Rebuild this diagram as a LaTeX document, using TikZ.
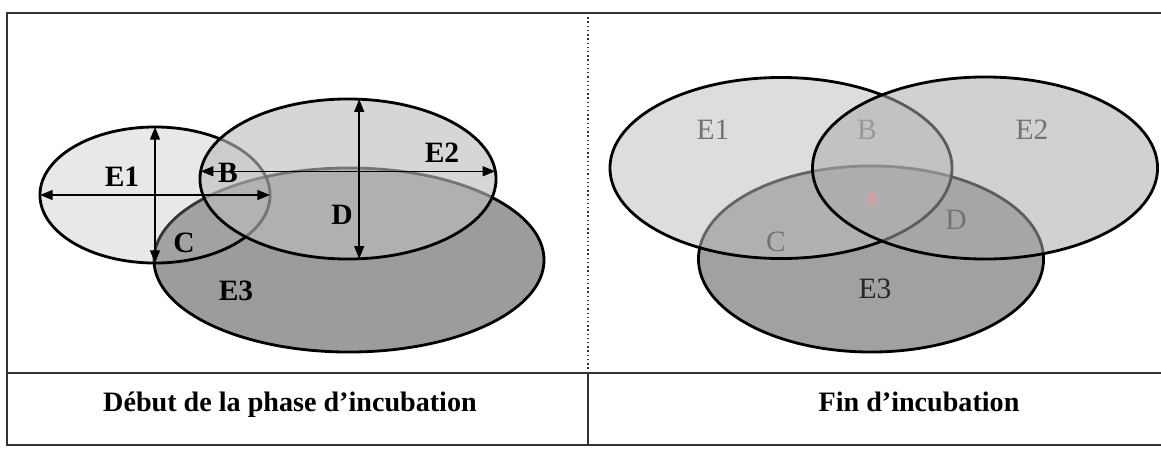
\documentclass[tikz,border=0pt]{standalone}
\usepackage{fontspec}
\setmainfont{Liberation Serif}
\usetikzlibrary{shapes.geometric, arrows.meta}

\definecolor{gUnD}{gray}{0.70}
\definecolor{gDeuxD}{gray}{0.74}
\definecolor{gTroisD}{gray}{0.61}
\definecolor{gUnF}{gray}{0.75}
\definecolor{gDeuxF}{gray}{0.67}
\definecolor{gTroisF}{gray}{0.63}

\begin{document}
\begin{tikzpicture}[x=0.025cm, y=-0.025cm, >={Triangle[length=9pt, width=7pt]},
  zone/.style={ellipse, draw=black, line width=2pt, inner sep=0pt, outer sep=0pt},
  axe/.style={<->, line width=1.1pt},
  lab/.style={font=\fontsize{21}{23}\selectfont\bfseries},
  labf/.style={font=\fontsize{21}{23}\selectfont, text=black!55},
  legende/.style={anchor=base, font=\fontsize{20}{22}\selectfont\bfseries},
  cadre/.style={line width=1.4pt, draw=black!80}]

\useasboundingbox (0,0) rectangle (1161,448);

% cadre du tableau
\draw[cadre] (1161,13) -- (7,13) -- (7,445) -- (1161,445);
\draw[cadre] (7,373) -- (1161,373);
\draw[cadre, line width=1pt, dotted] (588,13) -- (588,373);
\draw[cadre] (588,373) -- (588,445);

% ==================== Debut de la phase d'incubation ====================
\node[zone, fill=gTroisD, minimum width=9.75cm, minimum height=4.6cm] (e3d) at (349,260) {};
\node[zone, fill=gUnD, fill opacity=0.3, minimum width=5.75cm, minimum height=3.4cm] (e1d) at (155,195) {};
\node[zone, fill=gDeuxD, fill opacity=0.62, minimum width=7.4cm, minimum height=4cm] (e2d) at (348,179) {};

% axes des ellipses
\draw[axe] (e1d.west) -- (e1d.east);
\draw[axe] (e1d.north) -- (e1d.south);
\draw[axe] (e2d.177) -- (e2d.3);
\draw[axe] (e2d.82) -- (e2d.-82);

% etiquettes
\node[lab] (l1d) at (122,177) {E1};
\node[lab] (lbd) at (228,173) {B};
\node[lab] (l2d) at (442,153) {E2};
\node[lab] (ldd) at (342,215) {D};
\node[lab] (lcd) at (184,243) {C};
\node[lab] (l3d) at (236,291) {E3};

\node[legende] (tdebut) at (290,411) {Début de la phase d’incubation};

% ==================== Fin d'incubation ====================
\node[zone, fill=gTroisF, minimum width=8.625cm, minimum height=4.65cm] (e3f) at (871,259) {};
\node[zone, fill=gUnF, fill opacity=0.53, minimum width=8.55cm, minimum height=4.525cm] (e1f) at (781,168) {};
\node[zone, fill=gDeuxF, fill opacity=0.55, minimum width=8.625cm, minimum height=4.55cm] (e2f) at (985,168) {};

% etiquettes
\node[labf] (l1f) at (713,130) {E1};
\node[labf, text=black!40] (lbf) at (867,130) {B};
\node[labf] (l2f) at (1032,130) {E2};
\node[font=\fontsize{14}{16}\selectfont, text=red!45] (laf) at (871,198) {A};
\node[labf] (ldf) at (956,220) {D};
\node[labf] (lcf) at (776,242) {C};
\node[labf, text=black!85] (l3f) at (875,289) {E3};

\node[legende] (tfin) at (919,411) {Fin d’incubation};
\end{tikzpicture}
\end{document}
